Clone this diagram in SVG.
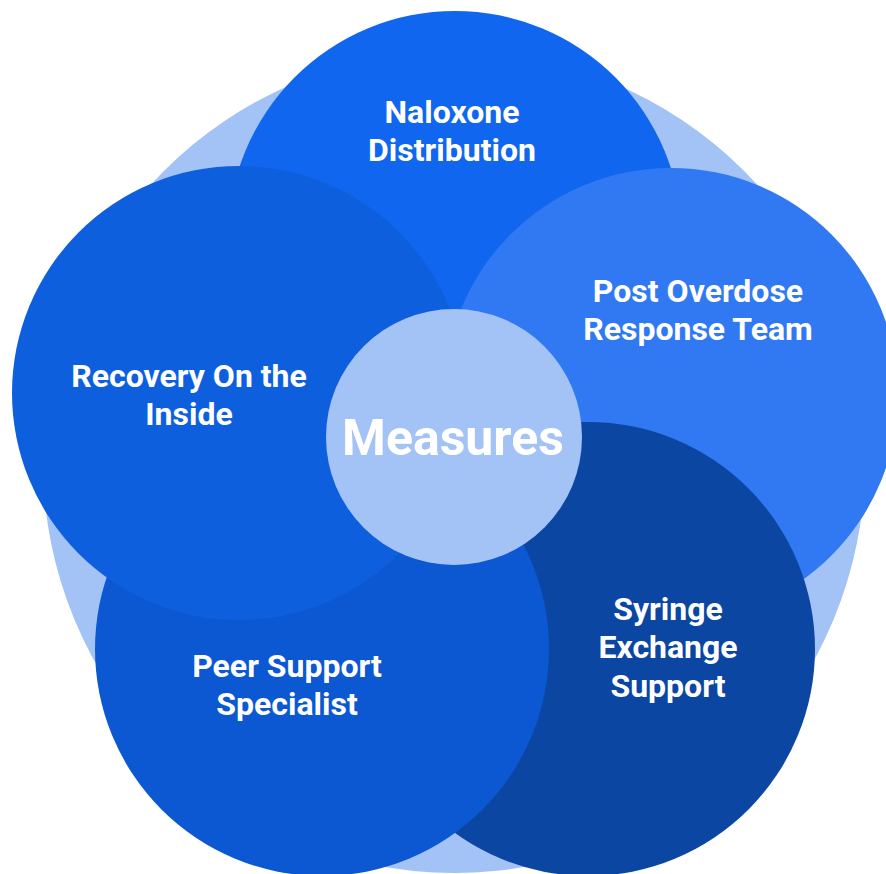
<svg xmlns="http://www.w3.org/2000/svg" width="886" height="874" viewBox="0 0 886 874">
<style>
.lbl{font-family:Roboto,"Liberation Sans",Arial,sans-serif;font-weight:700;font-size:32px;fill:#ffffff;text-anchor:middle}
.ctr{font-family:Roboto,"Liberation Sans",Arial,sans-serif;font-weight:700;font-size:50px;fill:#ffffff;text-anchor:middle}
</style>
<rect width="886" height="874" fill="#ffffff"/>
<g id="background"><circle cx="454" cy="462" r="411" fill="#a3c3f7"/></g>
<g id="naloxone">
<circle cx="455" cy="238" r="227" fill="#1066ee"/>
<text class="lbl" x="452" y="123">Naloxone</text>
<text class="lbl" x="452" y="161">Distribution</text>
</g>
<g id="post-overdose">
<circle cx="671" cy="395" r="227" fill="#3079f2"/>
<text class="lbl" x="698" y="302">Post Overdose</text>
<text class="lbl" x="698" y="340">Response Team</text>
</g>
<g id="syringe">
<circle cx="588" cy="649" r="227" fill="#0b46a3"/>
<text class="lbl" x="668" y="620">Syringe</text>
<text class="lbl" x="668" y="658">Exchange</text>
<text class="lbl" x="668" y="697">Support</text>
</g>
<g id="peer-support">
<circle cx="322" cy="649" r="227" fill="#0c57d2"/>
<text class="lbl" x="287" y="677">Peer Support</text>
<text class="lbl" x="287" y="715">Specialist</text>
</g>
<g id="recovery">
<circle cx="239" cy="393" r="227" fill="#0e5fdd"/>
<text class="lbl" x="189" y="387">Recovery On the</text>
<text class="lbl" x="189" y="425">Inside</text>
</g>
<g id="measures">
<circle cx="454" cy="437" r="128" fill="#a3c3f7"/>
<text class="ctr" x="453" y="455">Measures</text>
</g>
<g id="connectors"/>
</svg>
